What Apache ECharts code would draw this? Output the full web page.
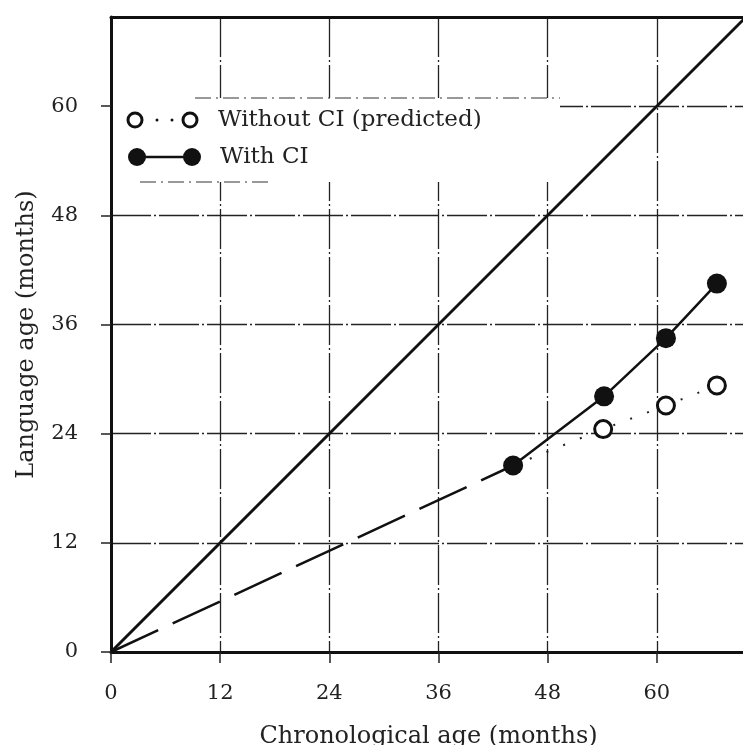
<!DOCTYPE html>
<html>
<head>
<meta charset="utf-8">
<title>Language age vs chronological age</title>
<script src="https://cdn.jsdelivr.net/npm/echarts@6/dist/echarts.min.js"></script>
<style>
  html, body { margin: 0; padding: 0; background: #fff; }
  #main { width: 743px; height: 745px; }
</style>
</head>
<body>
<div id="main"></div>
<script type="text/javascript">
// data (months)
var chronAgeCI = [44.2, 54.2, 61.0, 66.6];
var langAgeCI = [20.5, 28.1, 34.5, 40.5];
var chronAgePred = [54.1, 61.0, 66.6];
var langAgePred = [24.5, 27.1, 29.3];
var equalAge = [0, 69.8];          // y = x reference line
var tickValues = [0, 12, 24, 36, 48, 60];

var FONT = 'DejaVu Serif';
var INK = '#111';
var GRID_DASH = [40, 3, 2, 3];

function pairs(xs, ys) {
    var out = [];
    for (var i = 0; i < xs.length; i++) {
        out.push([xs[i], ys[i]]);
    }
    return out;
}

function tickLabel(v) {
    return tickValues.indexOf(v) >= 0 ? String(v) : '';
}

// dashed extrapolation: origin to first measured point
var extrapData = [[0, 0], [chronAgeCI[0], langAgeCI[0]]];
// dotted prediction starts at first measured point (no marker there)
var predData = [{ value: [chronAgeCI[0], langAgeCI[0]], symbol: 'none' }].concat(pairs(chronAgePred, langAgePred));

var myChart = echarts.init(document.getElementById('main'));

var option = {
    animation: false,
    backgroundColor: '#fff',
    grid: {
        left: 111,
        top: 17,
        width: 635,
        height: 635,
        outerBoundsMode: 'none',
        containLabel: false
    },
    xAxis: [{
        type: 'value',
        min: 0,
        max: 69.8,
        interval: 12,
        name: 'Chronological age (months)',
        nameLocation: 'middle',
        nameGap: 73,
        nameTextStyle: { fontFamily: FONT, fontSize: 24, color: '#222' },
        axisLine: { lineStyle: { color: INK, width: 3 } },
        axisTick: { inside: false, length: 11, lineStyle: { color: '#222', width: 1.5 } },
        axisLabel: {
            fontFamily: FONT, fontSize: 21, color: '#222', margin: 31,
            showMaxLabel: false,
            formatter: tickLabel
        },
        splitLine: { show: true, lineStyle: { color: '#222', width: 1.3, type: GRID_DASH } }
    }, {
        // top frame line only
        type: 'value',
        position: 'top',
        min: 0,
        max: 69.8,
        axisLine: { show: true, lineStyle: { color: INK, width: 3 } },
        axisTick: { show: false },
        axisLabel: { show: false },
        splitLine: { show: false }
    }],
    yAxis: {
        type: 'value',
        min: 0,
        max: 69.8,
        interval: 12,
        name: 'Language age (months)',
        nameLocation: 'middle',
        nameGap: 72,
        nameTextStyle: { fontFamily: FONT, fontSize: 24, color: '#222' },
        axisLine: { lineStyle: { color: INK, width: 3 } },
        axisTick: { inside: false, length: 10, lineStyle: { color: '#222', width: 1.5 } },
        axisLabel: {
            fontFamily: FONT, fontSize: 21, color: '#222', margin: 33,
            showMaxLabel: false,
            formatter: tickLabel
        },
        splitLine: { show: true, lineStyle: { color: '#222', width: 1.3, type: GRID_DASH } }
    },
    graphic: [
        // legend box (hides grid behind it)
        { type: 'rect', z: 10, shape: { x: 113, y: 98, width: 447, height: 84 }, style: { fill: '#fff' } },
        { type: 'line', z: 11, shape: { x1: 195, y1: 98, x2: 560, y2: 98 }, style: { stroke: '#333', lineWidth: 1, lineDash: [16, 5, 2, 5] } },
        { type: 'line', z: 11, shape: { x1: 140, y1: 182, x2: 270, y2: 182 }, style: { stroke: '#333', lineWidth: 1, lineDash: [16, 5, 2, 5] } },
        // row 1: without CI
        { type: 'circle', z: 12, shape: { cx: 135, cy: 120, r: 7 }, style: { fill: '#fff', stroke: INK, lineWidth: 3 } },
        { type: 'circle', z: 12, shape: { cx: 157, cy: 120, r: 1.5 }, style: { fill: INK } },
        { type: 'circle', z: 12, shape: { cx: 172, cy: 120, r: 1.5 }, style: { fill: INK } },
        { type: 'circle', z: 12, shape: { cx: 190, cy: 120, r: 7 }, style: { fill: '#fff', stroke: INK, lineWidth: 3 } },
        { type: 'text', z: 12, x: 218, y: 120, style: { text: 'Without CI (predicted)', fontFamily: FONT, fontSize: 23, fill: '#222', verticalAlign: 'middle' } },
        // row 2: with CI
        { type: 'line', z: 12, shape: { x1: 137, y1: 157, x2: 192, y2: 157 }, style: { stroke: INK, lineWidth: 2.5 } },
        { type: 'circle', z: 12, shape: { cx: 137, cy: 157, r: 9 }, style: { fill: INK } },
        { type: 'circle', z: 12, shape: { cx: 192, cy: 157, r: 9 }, style: { fill: INK } },
        { type: 'text', z: 12, x: 220, y: 157, style: { text: 'With CI', fontFamily: FONT, fontSize: 23, fill: '#222', verticalAlign: 'middle' } }
    ],
    series: [
        {
            name: 'Equal',
            type: 'line',
            data: [[equalAge[0], equalAge[0]], [equalAge[1], equalAge[1]]],
            symbol: 'none',
            lineStyle: { color: INK, width: 3 },
            silent: true
        },
        {
            name: 'Extrapolated',
            type: 'line',
            data: extrapData,
            symbol: 'none',
            lineStyle: { color: INK, width: 2.5, type: [52, 16] },
            silent: true
        },
        {
            name: 'Without CI (predicted)',
            type: 'line',
            data: predData,
            symbol: 'circle',
            symbolSize: 17,
            itemStyle: { color: '#fff', borderColor: INK, borderWidth: 3 },
            lineStyle: { color: '#222', width: 2, type: [2, 16] },
            z: 3
        },
        {
            name: 'With CI',
            type: 'line',
            data: pairs(chronAgeCI, langAgeCI),
            symbol: 'circle',
            symbolSize: 20,
            itemStyle: { color: INK },
            lineStyle: { color: INK, width: 2.5 },
            z: 4
        }
    ]
};

myChart.setOption(option);
</script>
</body>
</html>
